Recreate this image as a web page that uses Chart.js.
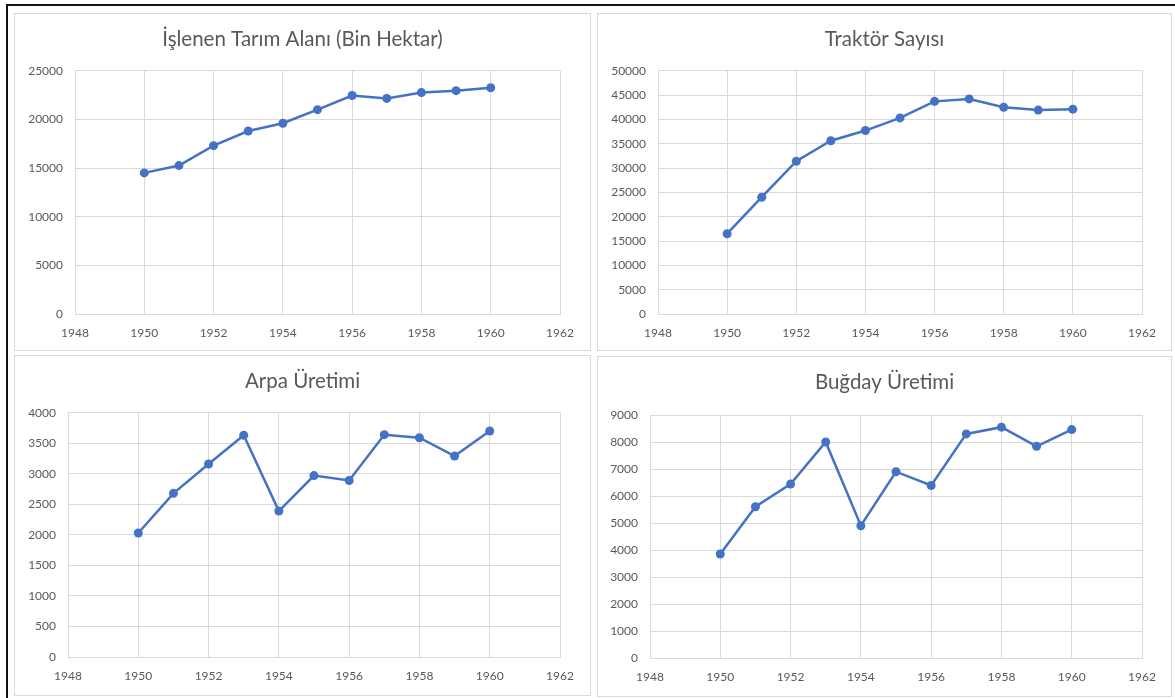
<!DOCTYPE html>
<html>
<head>
<meta charset="utf-8">
<script src="https://cdn.jsdelivr.net/npm/chart.js@4"></script>
<style>
  html, body { margin: 0; padding: 0; background: #fff; }
  body { width: 1175px; height: 698px; position: relative; overflow: hidden; }
  .frame { position: absolute; left: 6px; top: 4px; right: -10px; bottom: -10px;
           border-left: 2px solid #111; border-top: 2px solid #111; }
  .panel { position: absolute; border: 1px solid #d9d9d9; background: #fff; }
  .panel canvas { display: block; }
</style>
</head>
<body>
<div class="frame"></div>
<div class="panel" id="p1" style="left:14px;top:13px;width:575px;height:336px"><canvas id="c1"></canvas></div>
<div class="panel" id="p2" style="left:597px;top:13px;width:573px;height:336px"><canvas id="c2"></canvas></div>
<div class="panel" id="p3" style="left:14px;top:355px;width:575px;height:339px"><canvas id="c3"></canvas></div>
<div class="panel" id="p4" style="left:597px;top:356px;width:573px;height:339px"><canvas id="c4"></canvas></div>
<script>
// years on the x axis
const years = [1950, 1951, 1952, 1953, 1954, 1955, 1956, 1957, 1958, 1959, 1960];

// series values
const tarimAlani = [14500, 15250, 17300, 18800, 19600, 21000, 22450, 22150, 22750, 22950, 23250];
const traktor = [16500, 24000, 31400, 35600, 37700, 40300, 43700, 44200, 42500, 41900, 42100];
const arpa = [2030, 2680, 3160, 3630, 2390, 2970, 2890, 3640, 3590, 3290, 3700];
const bugday = [3850, 5600, 6440, 8000, 4900, 6900, 6390, 8300, 8550, 7840, 8460];

// titles and y axis ranges
const titles = ['İşlenen Tarım Alanı (Bin Hektar)', 'Traktör Sayısı', 'Arpa Üretimi', 'Buğday Üretimi'];
const yMax = [25000, 50000, 4000, 9000];
const yStep = [5000, 5000, 500, 1000];

// x axis range
const xMin = 1948, xMax = 1962, xStep = 2;

const GRID = '#d9d9d9';
const TEXT = '#595959';
const BLUE = '#4472C4';

function makeChart(id, values, idx, lay) {
  const canvas = document.getElementById(id);
  const box = canvas.parentElement;
  canvas.width = box.clientWidth;
  canvas.height = box.clientHeight;
  return new Chart(canvas.getContext('2d'), {
    type: 'line',
    data: {
      datasets: [{
        data: years.map((y, i) => ({ x: y, y: values[i] })),
        borderColor: BLUE,
        backgroundColor: BLUE,
        borderWidth: 2.5,
        pointRadius: 4.5,
        pointBorderWidth: 0,
        pointBackgroundColor: BLUE,
        tension: 0
      }]
    },
    options: {
      responsive: false,
      animation: false,
      layout: { padding: 0 },
      plugins: {
        legend: { display: false },
        tooltip: { enabled: false },
        title: {
          display: true,
          text: titles[idx],
          color: TEXT,
          font: { family: 'Lato', size: 20.5, weight: 'normal', lineHeight: 1.2 },
          padding: { top: lay.tTop, bottom: lay.tBottom }
        }
      },
      scales: {
        x: {
          type: 'linear',
          min: xMin, max: xMax,
          ticks: { stepSize: xStep, color: TEXT, font: { family: 'Lato', size: 12 }, padding: 12,
                   callback: v => String(v) },
          grid: { color: GRID, lineWidth: 1, drawTicks: false },
          border: { color: GRID, width: 1 },
          afterFit: s => { s.height = lay.xh; }
        },
        y: {
          min: 0, max: yMax[idx],
          ticks: { stepSize: yStep[idx], color: TEXT, font: { family: 'Lato', size: 12 }, padding: 12,
                   callback: v => String(v) },
          grid: { color: GRID, lineWidth: 1, drawTicks: false },
          border: { color: GRID, width: 1 },
          afterFit: s => { s.width = lay.yw; }
        },
        // empty right-hand spacer so the title stays centred on the panel
        spacer: {
          type: 'linear',
          position: 'right',
          min: 0, max: 1,
          ticks: { display: false },
          grid: { display: false, drawTicks: false },
          border: { display: false },
          afterFit: s => { s.width = lay.right; }
        }
      }
    }
  });
}

makeChart('c1', tarimAlani, 0, { right: 30, tTop: 12.7, tBottom: 19.4, xh: 36, yw: 60 });
makeChart('c2', traktor, 1, { right: 29, tTop: 12.7, tBottom: 19.4, xh: 36, yw: 60 });
makeChart('c3', arpa, 2, { right: 30, tTop: 13.4, tBottom: 18.7, xh: 38, yw: 53 });
makeChart('c4', bugday, 3, { right: 29, tTop: 13.4, tBottom: 20, xh: 38, yw: 52 });
</script>
</body>
</html>
